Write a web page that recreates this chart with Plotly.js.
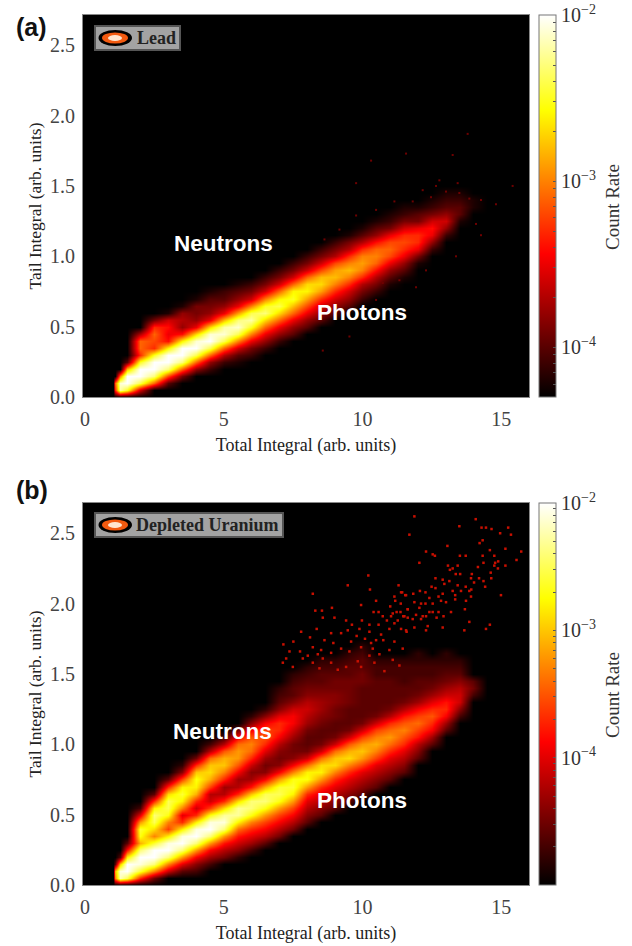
<!DOCTYPE html>
<html>
<head>
<meta charset="utf-8">
<script src="https://cdn.plot.ly/plotly-3.0.1.min.js"></script>
<style>html,body{margin:0;padding:0;background:#fff}#chart{width:632px;height:946px}</style>
</head>
<body>
<div id="chart"></div>
<script>
// Total Integral bin centres and Tail Integral bin centres
const totalBins = [0,0.5,1,1.1,1.25,1.5,2,2.5,3,3.5,4,4.5,5,5.5,6,6.5,7,7.5,8,8.5,9,9.5,10,10.5,11,11.5,12,12.5,13,13.5,14,14.5,15,15.5,16];
const tailBins = [0,0.05,0.1,0.15,0.2,0.25,0.3,0.35,0.4,0.45,0.5,0.55,0.6,0.65,0.7,0.75,0.8,0.85,0.9,0.95,1,1.05,1.1,1.15,1.2,1.25,1.3,1.35,1.4,1.45,1.5,1.55,1.6,1.65,1.7,1.75,1.8,1.85,1.9,1.95,2,2.05,2.1,2.15,2.2,2.25,2.3,2.35,2.4,2.45,2.5,2.55,2.6,2.65,2.7];

// Each column: [Total Integral, first Tail bin index, log10(rate)*10 ...]
const leadColumns = [
[1.1,1,-33,-31,-43],
[1.25,1,-22,-21,-30,-43],
[1.5,1,-25,-20,-20,-28,-40],
[2,1,-36,-24,-20,-20,-25,-33,-31,-31,-37,-43],
[2.5,2,-31,-23,-20,-20,-25,-33,-32,-31,-33,-39,-43],
[3,2,-40,-32,-23,-20,-20,-26,-34,-35,-34,-36,-42],
[3.5,3,-39,-31,-23,-20,-20,-26,-34,-38,-37,-38,-42],
[4,3,-43,-38,-31,-24,-20,-21,-27,-35,-38,-39,-39,-42],
[4.5,4,-41,-38,-31,-24,-20,-21,-27,-35,-38,-39,-40,-42],
[5,4,-43,-41,-37,-31,-24,-21,-22,-28,-35,-38,-40,-41,-43],
[5.5,5,-42,-40,-36,-30,-24,-21,-23,-29,-35,-38,-40,-42],
[6,6,-41,-39,-35,-30,-25,-22,-24,-30,-36,-39,-41,-43],
[6.5,7,-41,-38,-35,-31,-27,-23,-25,-30,-36,-39,-41,-43],
[7,8,-41,-38,-35,-31,-27,-24,-26,-31,-36,-39,-41],
[7.5,9,-40,-38,-35,-31,-28,-25,-26,-31,-36,-39,-41,-43],
[8,10,-40,-38,-35,-32,-29,-26,-27,-31,-36,-39,-41],
[8.5,11,-40,-38,-36,-33,-29,-27,-28,-32,-36,-39,-41,-43],
[9,12,-40,-38,-36,-33,-30,-28,-29,-32,-37,-39,-41],
[9.5,13,-40,-38,-36,-33,-30,-28,-30,-33,-37,-39,-42],
[10,14,-41,-39,-37,-33,-30,-29,-30,-33,-37,-40,-42],
[10.5,15,-41,-39,-37,-34,-31,-30,-31,-34,-38,-40,-42],
[11,16,-42,-40,-38,-35,-32,-31,-32,-35,-39,-41,-42],
[11.5,17,-42,-40,-38,-35,-33,-32,-33,-36,-39,-41,-42],
[12,19,-42,-39,-35,-33,-33,-35,-39,-40,-42],
[12.5,21,-41,-38,-35,-34,-36,-39,-41,-42],
[13,23,-41,-38,-36,-38,-40,-41,-42],
[13.5,25,-42,-40,-40,-41,-42],
[14,27,-42,-42]
];
const uraniumColumns = [
[1.1,1,-33,-31,-46],
[1.25,1,-22,-21,-30,-46],
[1.5,1,-25,-20,-20,-28,-38,-46],
[2,1,-37,-26,-21,-20,-24,-31,-27,-26,-32,-40,-47],
[2.5,1,-45,-33,-24,-20,-20,-26,-33,-29,-25,-24,-28,-37,-46],
[3,2,-41,-33,-24,-20,-21,-28,-36,-33,-27,-25,-25,-29,-37,-46],
[3.5,2,-46,-40,-32,-24,-20,-21,-28,-37,-40,-33,-28,-26,-28,-36,-44,-48],
[4,2,-47,-44,-39,-32,-24,-20,-21,-28,-37,-41,-37,-31,-28,-27,-30,-37,-45],
[4.5,3,-47,-43,-39,-32,-24,-20,-21,-27,-36,-41,-42,-36,-31,-29,-30,-34,-42,-47],
[5,4,-45,-42,-38,-32,-24,-21,-23,-29,-37,-42,-43,-37,-33,-30,-31,-35,-42,-47],
[5.5,4,-48,-44,-41,-38,-34,-28,-23,-23,-29,-37,-42,-43,-39,-35,-32,-32,-34,-39,-45],
[6,5,-47,-43,-40,-37,-33,-27,-24,-24,-30,-38,-43,-44,-41,-37,-34,-33,-35,-39,-44,-48],
[6.5,6,-46,-42,-39,-36,-32,-27,-24,-25,-31,-39,-44,-45,-43,-40,-37,-35,-36,-39,-44,-48],
[7,7,-45,-42,-39,-36,-32,-27,-25,-26,-32,-39,-44,-45,-44,-42,-39,-37,-37,-40,-44,-46,-47,-48],
[7.5,8,-45,-42,-39,-36,-32,-28,-26,-27,-33,-39,-44,-45,-45,-43,-41,-39,-39,-41,-44,-46,-46,-47,-48],
[8,9,-46,-44,-42,-40,-37,-32,-27,-28,-34,-41,-45,-46,-46,-45,-43,-42,-41,-42,-44,-45,-46,-47,-48],
[8.5,10,-46,-44,-42,-40,-37,-32,-28,-29,-34,-41,-45,-46,-46,-45,-44,-43,-43,-44,-45,-46,-46,-47,-48],
[9,11,-46,-44,-42,-40,-37,-33,-29,-30,-34,-41,-45,-46,-46,-45,-45,-44,-44,-45,-45,-46,-47,-48],
[9.5,12,-46,-44,-42,-40,-37,-33,-29,-31,-35,-41,-45,-46,-46,-46,-45,-45,-45,-45,-46,-46,-47,-48],
[10,13,-46,-44,-42,-40,-36,-32,-30,-32,-36,-41,-45,-46,-46,-46,-46,-46,-45,-45,-46,-46,-47,-48],
[10.5,14,-46,-44,-42,-40,-36,-33,-31,-33,-36,-41,-45,-46,-46,-46,-46,-46,-47,-47,-48],
[11,15,-46,-44,-42,-40,-37,-34,-32,-34,-37,-42,-45,-46,-46,-46,-46,-47,-47,-48],
[11.5,16,-46,-44,-42,-40,-37,-35,-33,-35,-38,-42,-45,-46,-46,-47,-47,-47,-48],
[12,18,-46,-44,-42,-38,-36,-34,-36,-39,-43,-45,-46,-46,-47,-47,-48,-48],
[12.5,20,-46,-43,-39,-37,-35,-37,-40,-43,-45,-46,-47,-47,-48],
[13,22,-46,-43,-39,-37,-38,-41,-43,-45,-46,-47,-48,-48],
[13.5,24,-47,-44,-41,-41,-42,-44,-46,-47,-48],
[14,27,-47,-45,-46]
];

// Isolated events
const leadSpeckX = [13.25,13.79,10.31,11.57,15.41,14.81,14.27,9.77,12.77,13.43,12.17,11.15,10.49,9.77,12.65,12.47,11.81,13.85,13.49,13.01,9.17,8.63,14.27,14.09,13.37,12.29,11.33,10.49,9.53,8.57,11.93,10.73];
const leadSpeckY = [1.72,1.87,1.68,1.73,1.50,1.37,1.40,1.52,1.54,1.52,1.47,1.39,1.33,1.29,1.50,1.42,1.39,1.41,1.45,1.46,1.19,1.12,1.15,1.23,1.0,0.90,0.83,0.69,0.43,0.33,0.78,0.81];
const uraniumSpeckX = [11.87,14.08,13.49,14.29,14.45,14.65,15.25,14.96,15.35,11.69,14.33,14.22,13.06,14.59,15.15,15.72,12.29,12.53,12.61,13.51,13.72,14.33,14.75,15.55,14.89,14.78,12.05,14.36,14.75,15.15,13.43,13.08,14.16,14.88,13.15,13.25,13.52,13.36,13.94,14.62,14.64,12.63,12.89,12.95,13.13,13.91,14.02,14.20,14.36,13.43,13.72,13.92,14.42,12.49,12.63,13.25,13.55,13.34,13.85,13.91,14.99,12.89,11.43,11.83,12.07,12.27,11.57,12.74,12.41,13.01,13.34,13.73,12.83,11.87,12.11,12.27,12.53,11.38,12.05,11.63,12.74,12.53,12.41,13.69,13.19,11.37,11.93,12.17,12.29,12.92,11.47,11.81,12.11,12.67,11.63,13.85,12.35,12.89,14.59,11.87,11.57,12.29,13.67,14.45,
10.21,9.47,10.27,8.21,11.30,11.39,11.15,11.54,10.49,11.18,9.95,11.0,8.90,8.30,8.54,10.40,10.58,11.63,11.09,11.23,8.99,8.57,10.73,11.03,11.51,9.41,9.62,9.98,10.88,11.27,10.25,10.58,11.15,9.89,8.35,9.47,10.97,11.39,7.79,8.87,9.23,10.25,11.59,10.67,8.11,9.79,10.09,10.49,8.63,8.95,7.51,9.59,11.15,10.31,10.75,7.15,8.21,9.23,9.95,7.37,7.75,8.51,8.87,9.53,10.37,10.97,11.45,8.03,8.39,10.25,10.61,7.25,7.85,8.57,9.83,11.09,7.13,7.49,8.21,8.87,9.41,10.43,11.33,8.45,9.95,9.11,10.79];
const uraniumSpeckY = [2.62,2.60,2.55,2.54,2.54,2.53,2.54,2.50,2.49,2.49,2.45,2.43,2.41,2.38,2.39,2.37,2.37,2.35,2.34,2.34,2.34,2.34,2.34,2.31,2.30,2.29,2.29,2.29,2.27,2.27,2.27,2.27,2.26,2.25,2.24,2.25,2.21,2.21,2.21,2.22,2.18,2.18,2.17,2.14,2.16,2.18,2.15,2.18,2.16,2.13,2.12,2.10,2.12,2.12,2.11,2.09,2.09,2.06,2.09,2.05,2.06,2.07,2.08,2.07,2.09,2.08,2.06,2.05,2.04,2.01,2.03,2.02,2.02,2.01,2.00,2.00,2.00,2.00,1.97,1.96,1.94,1.94,1.94,1.96,1.94,1.94,1.92,1.91,1.91,1.91,1.91,1.89,1.89,1.90,1.90,1.87,1.84,1.83,1.85,1.83,1.81,1.81,1.81,1.82,
2.20,2.13,2.10,2.07,2.13,2.08,2.05,2.06,2.02,2.02,1.99,1.98,1.97,1.95,1.95,1.94,1.94,1.96,1.93,1.94,1.90,1.90,1.91,1.91,1.91,1.88,1.85,1.88,1.88,1.88,1.85,1.85,1.86,1.82,1.82,1.81,1.82,1.82,1.80,1.79,1.79,1.80,1.80,1.78,1.76,1.77,1.75,1.74,1.74,1.72,1.73,1.73,1.73,1.72,1.74,1.71,1.69,1.68,1.69,1.66,1.66,1.67,1.65,1.66,1.68,1.67,1.68,1.63,1.64,1.63,1.64,1.61,1.61,1.61,1.59,1.60,1.58,1.55,1.58,1.58,1.55,1.58,1.56,1.54,1.55,1.53,1.52];

const xTicks = [0,5,10,15];
const yTicks = [0,0.5,1,1.5,2,2.5];
const yTickText = ['0.0','0.5','1.0','1.5','2.0','2.5'];
const hotScale = [[0,'#000000'],[0.375,'#ff0000'],[0.75,'#ffff00'],[1,'#ffffff']];
const serif = '"Liberation Serif", serif';
const sans = '"Liberation Sans", sans-serif';
const W = 632, H = 946;
const px = v => v / W;
const py = v => 1 - v / H;

function matrix(columns, floor) {
  return totalBins.map(x => {
    const col = tailBins.map(() => floor / 10);
    const c = columns.find(k => k[0] === x);
    if (c) c.slice(2).forEach((v, i) => { col[c[1] + i] = v / 10; });
    return col;
  });
}
function barTicks(lo, hi) {
  const vals = [], text = [];
  for (let d = -6; d <= -2; d++) {
    for (let m = 1; m <= 9; m++) {
      const v = d + Math.log10(m);
      if (v >= lo - 1e-6 && v <= hi + 1e-6) {
        vals.push(v);
        text.push(m === 1 && v > lo + 0.01 ? '10<sup>\u2212' + (-d) + '</sup>' : '');
      }
    }
  }
  return {vals, text};
}
function heat(columns, xa, ya, lo, hi, top) {
  const t = barTicks(lo, hi);
  return {
    type: 'heatmap', x: totalBins, y: tailBins, z: matrix(columns, lo * 10), transpose: true,
    xaxis: xa, yaxis: ya, zmin: lo, zmax: hi, zsmooth: 'best', colorscale: hotScale, hoverinfo: 'skip',
    colorbar: {
      x: px(539), xanchor: 'left', y: py(top), yanchor: 'top', len: 382 / H, lenmode: 'fraction',
      thickness: 17, thicknessmode: 'pixels', xpad: 0, ypad: 0, outlinecolor: '#777', outlinewidth: 1,
      tickmode: 'array', tickvals: t.vals, ticktext: t.text, ticks: 'inside', ticklen: 3, tickcolor: '#555',
      tickfont: {family: serif, size: 20, color: '#333'}
    }
  };
}
function specks(xs, ys, xa, ya, color, size) {
  return {type: 'scatter', mode: 'markers', x: xs, y: ys, xaxis: xa, yaxis: ya, hoverinfo: 'skip', showlegend: false,
    marker: {symbol: 'square', size: size, color: color, line: {width: 0}}};
}
function xAxis(anchor) {
  return {domain: [px(83), px(529)], range: [-0.07, 16], anchor: anchor, tickmode: 'array', tickvals: xTicks,
    ticks: '', showgrid: false, zeroline: false, showline: true, mirror: true, linecolor: '#888', linewidth: 1,
    ticklabelstandoff: 4, tickfont: {family: serif, size: 20, color: '#444'},
    title: {text: 'Total Integral (arb. units)', standoff: 9, font: {family: serif, size: 18, color: '#222'}}};
}
function yAxis(anchor, bottom, top) {
  return {domain: [py(bottom), py(top)], range: [0, 2.715], anchor: anchor, tickmode: 'array', tickvals: yTicks, ticktext: yTickText,
    ticks: '', showgrid: false, zeroline: false, showline: true, mirror: true, linecolor: '#888', linewidth: 1,
    ticklabelstandoff: 3, tickfont: {family: serif, size: 20, color: '#444'},
    title: {text: 'Tail Integral (arb. units)', standoff: 3, font: {family: serif, size: 17.5, color: '#222'}}};
}
function label(text, x, y, xr, yr) {
  return {text: text, x: x, y: y, xref: xr, yref: yr, showarrow: false, font: {family: sans, size: 22.5, color: '#fff', weight: 'bold'}};
}
function panelMark(text, top) {
  return {text: text, x: px(14), y: py(top), xref: 'paper', yref: 'paper', xanchor: 'left', yanchor: 'middle', showarrow: false,
    font: {family: sans, size: 25, color: '#111', weight: 'bold'}};
}
function barTitle(top) {
  return {text: 'Count Rate', x: px(612), y: py(top), xref: 'paper', yref: 'paper', xanchor: 'center', yanchor: 'middle', textangle: -90, showarrow: false,
    font: {family: serif, size: 19, color: '#333'}};
}
function legendShapes(x1, y0) {
  const s = (type, a, b, c, d, fill, line, lw) => ({type: type, xref: 'paper', yref: 'paper', x0: px(a), x1: px(c), y0: py(b), y1: py(d),
    fillcolor: fill, line: {color: line, width: lw}});
  return [
    s('rect', 95, y0, x1, y0 + 24, '#a3a3a3', '#555', 2),
    s('circle', 98.5, y0 + 4, 132, y0 + 20, '#000', '#000', 0),
    s('circle', 102, y0 + 6.5, 128, y0 + 17.5, '#f25a10', '#f25a10', 0),
    s('circle', 108, y0 + 9, 122, y0 + 15, '#ffe6d0', '#ffe6d0', 0)
  ];
}
function legendText(text, x, y) {
  return {text: text, x: px(x), y: py(y), xref: 'paper', yref: 'paper', xanchor: 'left', yanchor: 'middle', showarrow: false,
    font: {family: serif, size: 18, color: '#222', weight: 'bold'}};
}

const data = [
  heat(leadColumns, 'x', 'y', -4.3, -2, 15),
  specks(leadSpeckX, leadSpeckY, 'x', 'y', '#6e0000', 2),
  heat(uraniumColumns, 'x2', 'y2', -5, -2, 503),
  specks(uraniumSpeckX, uraniumSpeckY, 'x2', 'y2', '#c81000', 2.5)
];
const layout = {
  width: W, height: H, autosize: false, margin: {l: 0, r: 0, t: 0, b: 0}, paper_bgcolor: '#fff', plot_bgcolor: '#000', showlegend: false,
  xaxis: xAxis('y'), yaxis: yAxis('x', 397, 15),
  xaxis2: xAxis('y2'), yaxis2: yAxis('x2', 885, 503),
  shapes: legendShapes(180, 26).concat(legendShapes(283, 513)),
  annotations: [
    panelMark('(a)', 27), panelMark('(b)', 490),
    barTitle(207), barTitle(695),
    legendText('Lead', 135, 38), legendText('Depleted Uranium', 134, 525),
    label('Neutrons', 5, 1.09, 'x', 'y'), label('Photons', 10, 0.6, 'x', 'y'),
    label('Neutrons', 4.97, 1.09, 'x2', 'y2'), label('Photons', 10, 0.6, 'x2', 'y2')
  ]
};
Plotly.newPlot('chart', data, layout, {displayModeBar: false, staticPlot: true});
</script>
</body>
</html>
